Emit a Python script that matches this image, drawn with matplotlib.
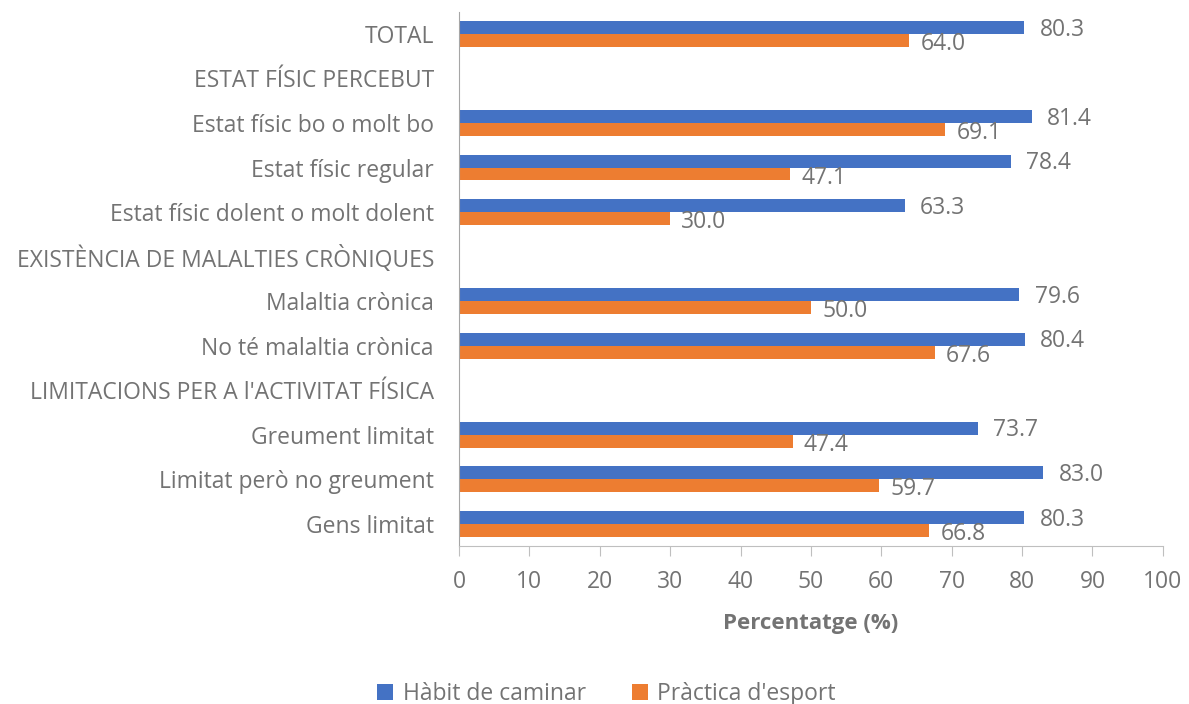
import numpy as np
import matplotlib
matplotlib.use('Agg')
import matplotlib.pyplot as plt

categories = ['TOTAL', 'ESTAT FÍSIC PERCEBUT', 'Estat físic bo o molt bo',
              'Estat físic regular', 'Estat físic dolent o molt dolent',
              'EXISTÈNCIA DE MALALTIES CRÒNIQUES', 'Malaltia crònica',
              'No té malaltia crònica', "LIMITACIONS PER A l'ACTIVITAT FÍSICA",
              'Greument limitat', 'Limitat però no greument', 'Gens limitat']
caminar = [80.3, None, 81.4, 78.4, 63.3, None, 79.6, 80.4, None, 73.7, 83.0, 80.3]
esport = [64.0, None, 69.1, 47.1, 30.0, None, 50.0, 67.6, None, 47.4, 59.7, 66.8]
series_names = ['Hàbit de caminar', "Pràctica d'esport"]

BLUE = '#4472C4'
ORANGE = '#ED7D31'
GRAY = '#737373'

plt.rcParams['font.family'] = ['Open Sans', 'DejaVu Sans']

fig = plt.figure(figsize=(11.89, 7.04), dpi=100)
ax = fig.add_axes([0.386, 0.2244, 0.592, 0.759])

y = np.arange(len(categories))
h = 0.29
cam = np.array([np.nan if v is None else v for v in caminar])
esp = np.array([np.nan if v is None else v for v in esport])
mask = ~np.isnan(cam)

ax.barh(y[mask] - h / 2, cam[mask], height=h, color=BLUE, label=series_names[0])
ax.barh(y[mask] + h / 2, esp[mask], height=h, color=ORANGE, label=series_names[1])

for yi, c, e in zip(y[mask], cam[mask], esp[mask]):
    ax.annotate('%.1f' % c, (c, yi - h / 2 + 0.05), xytext=(11, 0),
                textcoords='offset points', va='center', ha='left',
                color=GRAY, fontsize=16.5)
    ax.annotate('%.1f' % e, (e, yi + h / 2 + 0.08), xytext=(8, 0),
                textcoords='offset points', va='center', ha='left',
                color=GRAY, fontsize=16.5)

ax.set_ylim(len(categories) - 0.5, -0.5)
ax.set_xlim(0, 100)
ax.set_yticks(y)
ax.set_yticklabels(categories)
ax.set_xticks(np.arange(0, 101, 10))
ax.tick_params(axis='y', length=0, pad=18, labelsize=16.5, labelcolor=GRAY)
ax.tick_params(axis='x', length=7, color='#BFBFBF', labelsize=16.5,
               labelcolor=GRAY, pad=10)
for s in ['top', 'right']:
    ax.spines[s].set_visible(False)
ax.spines['left'].set_color('#A6A6A6')
ax.spines['bottom'].set_color('#BFBFBF')
ax.set_xlabel('Percentatge (%)', fontsize=16, fontweight='bold', color=GRAY,
              labelpad=14)

fig.legend(loc='lower center', bbox_to_anchor=(0.51, -0.032), ncol=2,
           frameon=False, fontsize=16.5, labelcolor=GRAY, handlelength=0.7,
           handleheight=0.7, columnspacing=2.0, handletextpad=0.4)

fig.savefig('out.png', dpi=100)
